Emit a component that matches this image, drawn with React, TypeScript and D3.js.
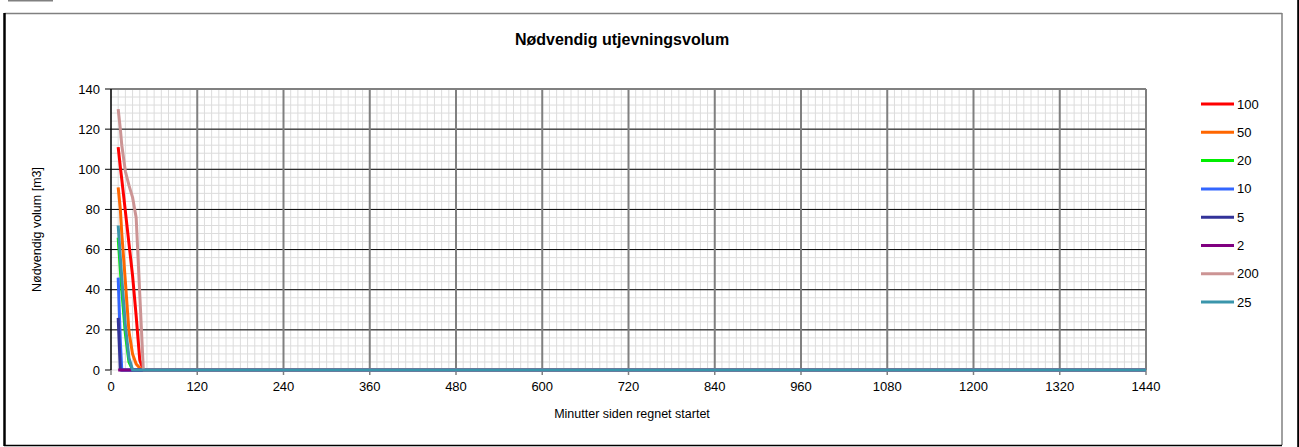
import React from "react";
import * as d3 from "d3";

const TITLE = "Nødvendig utjevningsvolum";
const X_LABEL = "Minutter siden regnet startet";
const Y_LABEL = "Nødvendig volum [m3]";

const TIMES = [10, 13, 15, 20, 25, 30, 35, 40, 45, 1440];
const X_TICKS = [0, 120, 240, 360, 480, 600, 720, 840, 960, 1080, 1200, 1320, 1440];
const Y_TICKS = [0, 20, 40, 60, 80, 100, 120, 140];

const SERIES_NAMES = ["100", "50", "20", "10", "5", "2", "200", "25"];
const SERIES_COLORS = ["#FF0000", "#FF6600", "#00EE00", "#3366FF", "#333399", "#800080", "#CC9494", "#3A95AB"];

const V100 = [111, 101, 95, 79, 63, 47, 27, 5, 0, 0];
const V50 = [91, 80, 68, 44, 19, 8, 3, 1, 0, 0];
const V20 = [66, 50, 40, 18, 4, 0, 0, 0, 0, 0];
const V10 = [46, 14, 0, 0, 0, 0, 0, 0, 0, 0];
const V5 = [26, 0, 0, 0, 0, 0, 0, 0, 0, 0];
const V2 = [0, 0, 0, 0, 0, 0, 0, 0, 0, 0];
const V200 = [130, 120, 112, 99, 92, 86, 76, 38, 0, 0];
const V25 = [72, 56, 46, 22, 6, 0, 0, 0, 0, 0];

const SERIES_VALUES = [V100, V50, V20, V10, V5, V2, V200, V25];

const W = 1299;
const H = 447;
const FONT = "'Liberation Sans', Arial, sans-serif";

export default function App() {
  const x = d3.scaleLinear().domain([0, 1440]).range([111, 1146]);
  const y = d3.scaleLinear().domain([0, 140]).range([370, 89]);

  const xMinor = d3.range(0, 1440 + 1, 10);
  const yMinor = d3.range(0, 140 + 1, 4);

  const line = d3
    .line<[number, number]>()
    .x((d) => x(d[0]))
    .y((d) => y(d[1]));

  const series = SERIES_NAMES.map((name, i) => ({
    name,
    color: SERIES_COLORS[i],
    pts: TIMES.map((t, j) => [t, SERIES_VALUES[i][j]] as [number, number]),
  }));

  const [x0, x1] = x.range();
  const [yb, yt] = y.range();

  return (
    <svg
      width={W}
      height={H}
      style={{ position: "absolute", left: 0, top: 0, background: "#fff" }}
      fontFamily={FONT}
    >
      {/* outer frame */}
      <line x1={8} x2={53} y1={0.5} y2={0.5} stroke="#808080" strokeWidth={2} />
      <line x1={4.5} x2={1282} y1={13.5} y2={13.5} stroke="#808080" strokeWidth={1.5} />
      <line x1={1282} x2={1282} y1={13} y2={445} stroke="#808080" strokeWidth={1.5} />
      <line x1={4.5} x2={4.5} y1={13} y2={446} stroke="#000" strokeWidth={2.5} />
      <line x1={4} x2={1282} y1={445.5} y2={445.5} stroke="#000" strokeWidth={1.5} />
      <line x1={1298.2} x2={1298.2} y1={0} y2={H} stroke="#000" strokeWidth={2} />

      {/* title */}
      <text x={622} y={45} textAnchor="middle" fontSize={16} fontWeight="bold" fill="#000">
        {TITLE}
      </text>

      {/* minor grid */}
      {xMinor.map((v) => (
        <line key={"xm" + v} x1={x(v)} x2={x(v)} y1={yt} y2={yb} stroke="#DCDCDC" strokeWidth={1} />
      ))}
      {yMinor.map((v) => (
        <line key={"ym" + v} x1={x0} x2={x1} y1={y(v)} y2={y(v)} stroke="#DCDCDC" strokeWidth={1} />
      ))}
      {/* major grid */}
      {Y_TICKS.filter((v) => v > 0 && v < 140).map((v) => (
        <line key={"yM" + v} x1={x0} x2={x1} y1={y(v)} y2={y(v)} stroke="#000" strokeWidth={1} />
      ))}
      {X_TICKS.filter((v) => v > 0).map((v) => (
        <line key={"xM" + v} x1={x(v)} x2={x(v)} y1={yt} y2={yb} stroke="#808080" strokeWidth={2} />
      ))}
      {/* plot border top */}
      <line x1={x0} x2={x1} y1={yt} y2={yt} stroke="#808080" strokeWidth={2} />

      {/* axes */}
      <line x1={x0} x2={x0} y1={yt} y2={yb} stroke="#000" strokeWidth={1.5} />
      {Y_TICKS.map((v) => (
        <g key={"yt" + v}>
          <line x1={x0 - 6} x2={x0} y1={y(v)} y2={y(v)} stroke="#000" strokeWidth={1} />
          <text x={100} y={y(v)} dy="0.35em" textAnchor="end" fontSize={13} fill="#000">
            {v}
          </text>
        </g>
      ))}
      {X_TICKS.map((v) => (
        <g key={"xt" + v}>
          <line x1={x(v)} x2={x(v)} y1={yb} y2={yb + 5} stroke="#808080" strokeWidth={1.5} />
          <text x={x(v)} y={391} textAnchor="middle" fontSize={13} fill="#000">
            {v}
          </text>
        </g>
      ))}

      {/* series */}
      {series.map((s) => (
        <path
          key={s.name}
          d={line(s.pts) || ""}
          fill="none"
          stroke={s.color}
          strokeWidth={3}
          strokeLinejoin="round"
        />
      ))}

      {/* axis labels */}
      <text x={632} y={418} textAnchor="middle" fontSize={12.5} fill="#000">
        {X_LABEL}
      </text>
      <text
        transform={`translate(41, ${(yt + yb) / 2}) rotate(-90)`}
        textAnchor="middle"
        fontSize={12.5}
        fill="#000"
      >
        {Y_LABEL}
      </text>

      {/* legend */}
      {series.map((s, i) => {
        const ly = 104 + i * 28.3;
        return (
          <g key={"lg" + s.name}>
            <line x1={1201} x2={1234} y1={ly} y2={ly} stroke={s.color} strokeWidth={3} />
            <text x={1237} y={ly} dy="0.35em" fontSize={13} fill="#000">
              {s.name}
            </text>
          </g>
        );
      })}
    </svg>
  );
}
